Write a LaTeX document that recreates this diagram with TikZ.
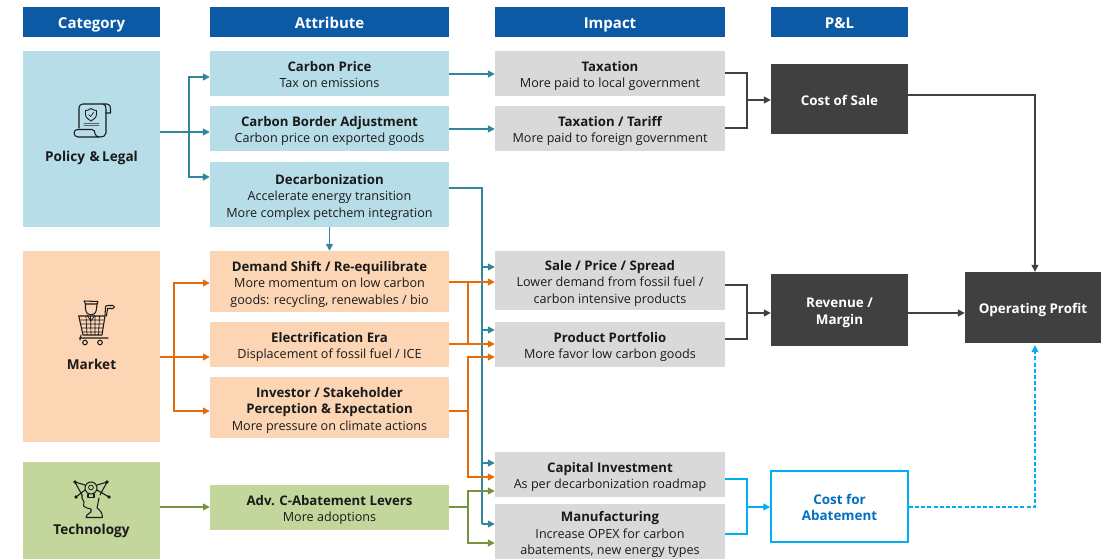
\documentclass[tikz,border=0pt]{standalone}
\usepackage{fontspec}
\setmainfont{Open Sans}
\usetikzlibrary{arrows.meta,calc}
\definecolor{hdr}{HTML}{0C5AA6}
\definecolor{lblue}{HTML}{B7DDE8}
\definecolor{lpeach}{HTML}{FCD5B5}
\definecolor{lgreen}{HTML}{C3D69B}
\definecolor{lgray}{HTML}{D9D9D9}
\definecolor{dgray}{HTML}{404040}
\definecolor{teal1}{HTML}{31859C}
\definecolor{orange1}{HTML}{E46C0A}
\definecolor{green1}{HTML}{77933C}
\definecolor{cyan1}{HTML}{00B0F0}
\definecolor{costblue}{HTML}{0070C0}
\definecolor{ink}{HTML}{1A1A1A}
\newcommand{\bt}[1]{{\fontsize{13.2}{16.5}\selectfont\bfseries #1}}
\tikzset{
  x=1pt,y=-1pt,
  boxbase/.style={inner sep=0pt,text=ink,font=\fontsize{12.6}{16.5}\selectfont},
  hdrbox/.style={boxbase,fill=hdr,text=white,font=\fontsize{15}{18}\selectfont\bfseries},
  catA/.style={boxbase,fill=lblue},
  catB/.style={boxbase,fill=lpeach},
  catC/.style={boxbase,fill=lgreen},
  imp/.style={boxbase,fill=lgray},
  pl/.style={boxbase,fill=dgray,text=white,font=\fontsize{13.4}{16.5}\selectfont\bfseries},
  abate/.style={boxbase,fill=white,draw=cyan1,line width=1.5pt,text=costblue,font=\fontsize{13.4}{16.5}\selectfont\bfseries},
  conn/.style={line width=1.5pt},
  arr/.style={conn,-{Triangle[length=7pt,width=7pt]}},
  tealc/.style={draw=teal1},
  orangec/.style={draw=orange1},
  greenc/.style={draw=green1},
  grayc/.style={draw=dgray},
  cyanc/.style={draw=cyan1},
  dashc/.style={dash pattern=on 4pt off 2.2pt},
  icon/.style={draw=ink,line width=1.05pt,line join=round,line cap=round,fill=none},
  icont/.style={draw=ink,line width=.7pt},
  cap1/.style={font=\fontsize{13.6}{15}\selectfont\bfseries,text=ink,inner sep=0pt},
}
\newcommand{\bx}[7]{%
  \pgfmathsetmacro{\bxw}{#4-#2}\pgfmathsetmacro{\bxh}{#5-#3}%
  \pgfmathsetmacro{\bxcx}{(#4+#2)/2}\pgfmathsetmacro{\bxcy}{(#5+#3)/2}%
  \node[#6,minimum width=\bxw pt,minimum height=\bxh pt] (#1) at (\bxcx,\bxcy) {\raisebox{0pt}[\dimexpr\height+5.6pt\relax]{\begin{tabular}{@{}c@{}}#7\end{tabular}}};}
\begin{document}
\begin{tikzpicture}
\useasboundingbox (0,0) rectangle (1112,559);
% headers
\bx{hcat}{23}{7}{160}{37}{hdrbox}{Category}
\bx{hatt}{210}{7}{449}{37}{hdrbox}{Attribute}
\bx{himp}{495}{7}{725}{37}{hdrbox}{Impact}
\bx{hpl}{771}{7}{908}{37}{hdrbox}{P\&L}
% categories
\bx{policy}{23}{51}{160}{227}{catA}{}
\bx{market}{23}{251}{160}{442}{catB}{}
\bx{tech}{23}{462}{160}{559}{catC}{}
\node[cap1] (policycap) at (91.5,158) {Policy\,\,\&\,Legal};
\node[cap1] (marketcap) at (91.5,364.5) {Market};
\node[cap1] (techcap) at (91.5,530.5) {Technology};
% attributes
\bx{a1}{210}{51}{449}{96}{catA}{\bt{Carbon Price}\\Tax on emissions}
\bx{a2}{210}{106}{449}{151}{catA}{\bt{Carbon Border Adjustment}\\Carbon price on exported goods}
\bx{a3}{210}{162}{449}{227}{catA}{\bt{Decarbonization}\\Accelerate energy transition\\More complex petchem integration}
\bx{a4}{210}{251}{449}{312}{catB}{\bt{Demand Shift / Re-equilibrate}\\More momentum on low carbon\\goods: recycling, renewables / bio}
\bx{a5}{210}{322}{449}{367}{catB}{\bt{Electrification Era}\\Displacement of fossil fuel / ICE}
\bx{a6}{210}{377}{449}{438}{catB}{\bt{Investor / Stakeholder}\\\bt{Perception \& Expectation}\\More pressure on climate actions}
\bx{a7}{210}{485}{449}{530}{catC}{\bt{Adv. C-Abatement Levers}\\More adoptions}
% impacts
\bx{i1}{495}{51}{725}{96}{imp}{\bt{Taxation}\\More paid to local government}
\bx{i2}{495}{106}{725}{151}{imp}{\bt{Taxation / Tariff}\\More paid to foreign government}
\bx{i3}{495}{251}{725}{310}{imp}{\bt{Sale / Price / Spread}\\Lower demand from fossil fuel /\\carbon intensive products}
\bx{i4}{495}{322}{725}{367}{imp}{\bt{Product Portfolio}\\More favor low carbon goods}
\bx{i5}{495}{452}{725}{497}{imp}{\bt{Capital Investment}\\As per decarbonization roadmap}
\bx{i6}{495}{505}{725}{559}{imp}{\bt{Manufacturing}\\Increase OPEX for carbon\\abatements, new energy types}
% P&L
\bx{cost}{771}{64}{908}{134}{pl}{Cost of Sale}
\bx{rev}{771}{274}{908}{346}{pl}{Revenue /\\Margin}
\bx{abt}{771}{471}{908}{542}{abate}{Cost for\\Abatement}
\bx{op}{965}{272}{1101}{343}{pl}{Operating Profit}
% junctions
\coordinate (pj) at (189,132);
\coordinate (mj) at (174,357);
\coordinate (tj) at (174,507);
\coordinate (dj) at (482,188);
\coordinate (oj) at (468,282);
\coordinate (oj2) at (468,344);
\coordinate (ij) at (468,411);
\coordinate (gj) at (468,507);
\coordinate (tx) at (747,100);
\coordinate (rx) at (747,313);
\coordinate (cx) at (747,507);
\coordinate (ox) at (1035,95);
\coordinate (dx) at (1035,507);
% policy
\draw[arr,tealc] (policy.east |- pj) -- (a2.west |- pj);
\draw[arr,tealc] (pj) |- (a1.west |- 0,77);
\draw[arr,tealc] (pj) |- (a3.west |- 0,177);
\draw[arr,tealc] (a3.south) -- (a4.north);
\draw[arr,tealc] (a1.east |- 0,74) -- (i1.west |- 0,74);
\draw[arr,tealc] (a2.east |- 0,129) -- (i2.west |- 0,129);
% decarbonization trunk
\draw[conn,tealc] (a3.east |- dj) -- (dj) -- (dj |- 0,524);
\draw[arr,tealc] (dj |- 0,267) -- (i3.west |- 0,267);
\draw[arr,tealc] (dj |- 0,330) -- (i4.west |- 0,330);
\draw[arr,tealc] (dj |- 0,463) -- (i5.west |- 0,463);
\draw[arr,tealc] (dj |- 0,524) -- (i6.west |- 0,524);
% market
\draw[arr,orangec] (market.east |- mj) -- (a5.west |- mj);
\draw[arr,orangec] (mj) |- (a4.west |- 0,283);
\draw[arr,orangec] (mj) |- (a6.west |- 0,411);
\draw[arr,orangec] (a4.east |- oj) -- (i3.west |- oj);
\draw[arr,orangec] (a5.east |- oj2) -- (i4.west |- oj2);
\draw[conn,orangec] (oj) -- (oj2);
\draw[conn,orangec] (a6.east |- ij) -- (ij);
\draw[arr,orangec] (ij) |- (i4.west |- 0,357);
\draw[arr,orangec] (ij) |- (i5.west |- 0,477);
% technology
\draw[arr,greenc] (tech.east |- tj) -- (a7.west |- tj);
\draw[conn,greenc] (a7.east |- gj) -- (gj);
\draw[arr,greenc] (gj) |- (i5.west |- 0,491);
\draw[arr,greenc] (gj) |- (i6.west |- 0,543);
% to P&L
\draw[conn,grayc] (i1.east |- 0,73) -| (tx) |- (i2.east |- 0,128);
\draw[arr,grayc] (tx) -- (cost.west |- tx);
\draw[conn,grayc] (i3.east |- 0,285) -| (rx) |- (i4.east |- 0,339);
\draw[arr,grayc] (rx) -- (rev.west |- rx);
\draw[conn,cyanc] (i5.east |- 0,479) -| (cx) |- (i6.east |- 0,534);
\draw[arr,cyanc] (cx) -- (abt.west |- cx);
% to operating profit
\draw[arr,grayc] (cost.east |- ox) -- (ox) -- (op.north -| ox);
\draw[arr,grayc] (rev.east |- rx) -- (op.west |- rx);
\draw[arr,cyanc,dashc] (abt.east |- dx) -- (dx) -- ($(op.south -| dx)+(0,2)$);
% icon: policy scroll
\draw[icon] (79,128) -- (79,108) .. controls (79,105.5) and (80.5,104) .. (83,104) -- (107,104) .. controls (110,104) and (110.5,106) .. (110.5,109) -- (110.5,113) -- (106,113);
\draw[icon] (103,104) .. controls (105,104) and (106,106) .. (106,109) -- (106,133) .. controls (106,136) and (103,137) .. (100,137) -- (78,137) .. controls (75.5,137) and (74,135) .. (74,133) .. controls (74,130.5) and (75.5,129.5) .. (78,129.5) -- (92,129.5) .. controls (94.5,129.5) and (95,132) .. (95,133.5) .. controls (95,135.5) and (97,137) .. (100,137);
\draw[icon,line width=.9pt] (91,108.5) .. controls (88,110.5) and (86.5,110.5) .. (85.5,110.5) -- (85.5,114) .. controls (85.5,117.5) and (88,119.5) .. (91,121) .. controls (94,119.5) and (96.5,117.5) .. (96.5,114) -- (96.5,110.5) .. controls (95.5,110.5) and (94,110.5) .. (91,108.5) -- cycle;
\draw[icon,line width=.7pt] (88.5,114.5) -- (90.5,116.5) -- (93.5,112.5);
\draw[icon,line width=.9pt,draw=ink!70] (84,123) -- (99,123) (84,125.5) -- (99,125.5);
% icon: market cart
\draw[icon] (78.5,316) -- (105,316) (79,317) -- (83,335) -- (102,335) -- (105,316) -- (105.5,307) .. controls (105.5,306) and (106.5,305.5) .. (108,305.5) -- (113,305.5) .. controls (115,305.5) and (115,308.5) .. (113,308.5) -- (107.5,308.5) -- (106.5,316);
\draw[icont] (80,320) -- (104,320) (81,324) -- (103.5,324) (81.5,328) -- (103,328) (82,332) -- (102.5,332)
  (86,316) -- (87,335) (90.5,316) -- (91,335) (95,316) -- (95,335) (99.5,316) -- (98.5,335);
\draw[icon] (79.5,338) -- (108,338) (81,335) -- (80,340);
\draw[icon] (85,342.5) circle (2.3) (100,342.5) circle (2.3);
\draw[icon] (84,301) -- (98,301.5) -- (97,304) -- (85.5,304) -- cycle;
\draw[icon] (85.5,304) -- (85.5,309) .. controls (86,313) and (88,315) .. (91,315) .. controls (94,315) and (96,313) .. (96.5,309) -- (97,304);
\draw[icont] (87,315) -- (91,321) -- (95,315);
% icon: technology
\draw[icon] (91,488) circle[radius=6];
\draw[icon,line width=.8pt] (91,487.5) circle[radius=2.4];
\draw[icon] (88,494) -- (88,497.5) -- (94,497.5) -- (94,494);
\draw[icon] (82,495) -- (82,498) -- (84,502) -- (83.5,506) -- (87,508) -- (91,509) -- (91,512) -- (87,515) -- (86,517.5) -- (102.5,517.5) .. controls (102.5,513) and (100,510) .. (97,508) -- (99,498);
\draw[icon] (75,482) -- (85,485) (75,482) -- (82,495) (76,497) -- (85,490)
  (107,482) -- (97,485) (107,482) -- (100,495) (109,497) -- (97,490);
\foreach \px/\py in {75/482,107/482,76/497,109/497}
  \fill[ink] (\px,\py) circle[radius=1.8];
\end{tikzpicture}
\end{document}
